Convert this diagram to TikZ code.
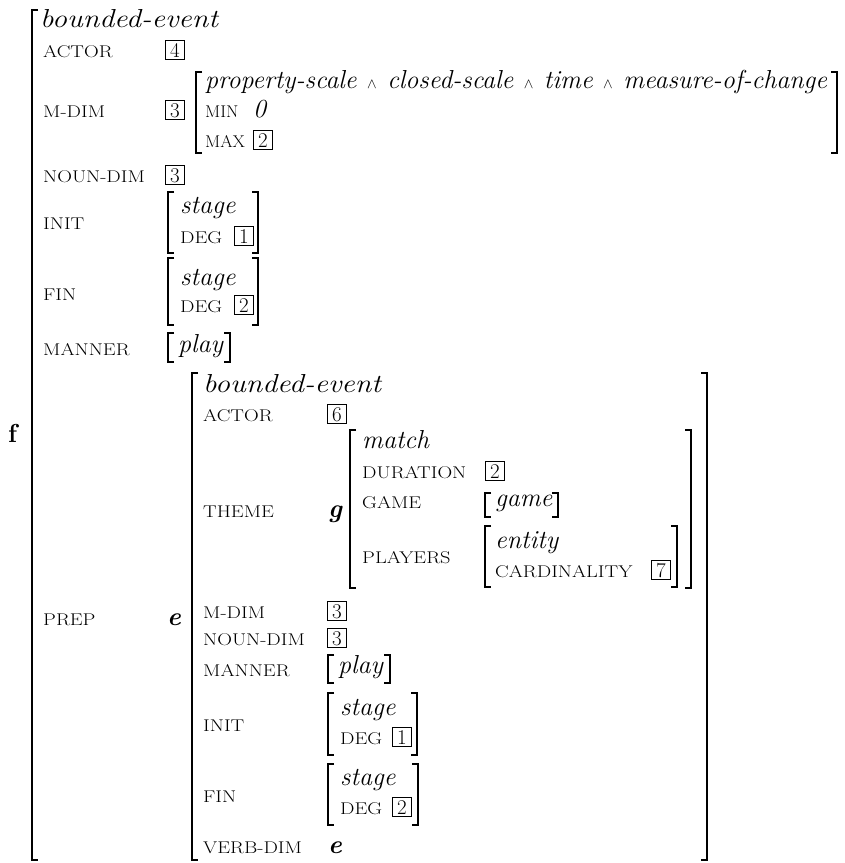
\documentclass[tikz,border=0pt]{standalone}
\usepackage{graphicx}
\newcommand\fsz{\fontsize{17}{21}\selectfont}
\newcommand\isz{\fontsize{26}{30}\selectfont}
\newcommand\tsz{\fontsize{21}{25}\selectfont}
\newcommand\SC[1]{\scalebox{1.2}[1]{#1}}
\newcommand\WI[1]{\scalebox{1.15}[1]{#1}}
\newcommand\andsym{\hspace{10.5pt}{\fontsize{15}{15}\selectfont$\wedge$}\hspace{10.5pt}}
\tikzset{
  x=1pt, y=-1pt,
  lab/.style={anchor=base west, inner sep=0pt, font=\fsz\upshape},
  typ/.style={anchor=base west, inner sep=0pt, font=\isz\itshape},
  var/.style={anchor=base west, inner sep=0pt, font=\isz\bfseries\itshape},
  tagbox/.style={anchor=base west, draw, line width=0.8pt, inner ysep=2.3pt, inner xsep=0pt, minimum width=19pt, font=\tsz},
  brk/.style={line width=1.6pt},
  midbrk/.style={line width=2pt},
  bigbrk/.style={line width=2.7pt},
}
\newcommand\LB[4][brk]{\draw[#1] (#2+6,#3) -- (#2,#3) -- (#2,#4) -- (#2+6,#4);}
\newcommand\RB[4][brk]{\draw[#1] (#2-6,#3) -- (#2,#3) -- (#2,#4) -- (#2-6,#4);}
\begin{document}
\begin{tikzpicture}
\useasboundingbox (0,0) rectangle (845,863);
% ---------- outer f ----------
\node[anchor=base west, inner sep=0pt, font=\isz\bfseries] (f) at (8,442) {f};
\LB[bigbrk]{32}{10}{860}
\node[typ] (be1) at (40,27) {\WI{bounded-event}};
\node[lab] (actor1) at (43,57) {\SC{ACTOR}};
\node[tagbox] (t4) at (165,57) {4};
\node[lab] (mdim1) at (43,117) {\SC{M-DIM}};
\node[tagbox] (t3a) at (165,117) {3};
\LB[midbrk]{196}{72}{153}
\RB[midbrk]{837}{72}{153}
\node[typ] (prop) at (205,88) {property-scale\andsym closed-scale\andsym time\andsym measure-of-change};
\node[lab] (min) at (205,117) {\scalebox{1.05}[1]{MIN}};
\node[typ] (zero) at (253,117) {0};
\node[lab] (max) at (205,147) {\scalebox{1.05}[1]{MAX}};
\node[tagbox] (t2a) at (253,147) {2};
\node[lab] (ndim1) at (43,182) {\SC{NOUN-DIM}};
\node[tagbox] (t3b) at (165,182) {3};
% INIT
\node[lab] (init1) at (43,229) {\SC{INIT}};
\LB{168}{192}{253}\RB{258}{192}{253}
\node[typ] (st1) at (180,213) {stage};
\node[lab] (deg1) at (180,243) {\SC{DEG}};
\node[tagbox] (t1a) at (234,243) {1};
% FIN
\node[lab] (fin1) at (43,300) {\SC{FIN}};
\LB{168}{258}{325}\RB{258}{258}{325}
\node[typ] (st2) at (180,285) {stage};
\node[lab] (deg2) at (180,312) {\SC{DEG}};
\node[tagbox] (t2b) at (234,312) {2};
% MANNER
\node[lab] (man1) at (43,355) {\SC{MANNER}};
\LB{168}{333}{362}\RB{230}{333}{362}
\node[typ] (play1) at (178,352) {play};
% PREP
\node[lab] (prep) at (43,625) {\SC{PREP}};
\node[var] (e1) at (167,625) {e};
% ---------- e matrix ----------
\LB[bigbrk]{192}{373}{860}\RB[bigbrk]{707}{373}{860}
\node[typ] (be2) at (203,392) {\WI{bounded-event}};
\node[lab] (actor2) at (203,421) {\SC{ACTOR}};
\node[tagbox] (t6) at (327,421) {6};
\node[lab] (theme) at (203,517) {\SC{THEME}};
\node[var] (g) at (328,517) {g};
% g matrix
\LB[midbrk]{350}{430}{588}\RB[midbrk]{691}{430}{588}
\node[typ] (match) at (362,448) {match};
\node[lab] (dur) at (362,478) {\SC{DURATION}};
\node[tagbox] (t2c) at (485,478) {2};
\node[lab] (game) at (362,508) {\SC{GAME}};
\LB{485}{493}{517}\RB{558}{493}{517}
\node[typ] (gameval) at (495,506) {game};
\node[lab] (players) at (362,563) {\SC{PLAYERS}};
\LB{485}{526}{587}\RB{677}{526}{587}
\node[typ] (entity) at (495,548) {entity};
\node[lab] (card) at (495,577) {\SC{CARDINALITY}};
\node[tagbox] (t7) at (651,577) {7};
% rest of e
\node[lab] (mdim2) at (203,618) {\SC{M-DIM}};
\node[tagbox] (t3c) at (327,618) {3};
\node[lab] (ndim2) at (203,645) {\SC{NOUN-DIM}};
\node[tagbox] (t3d) at (327,645) {3};
\node[lab] (man2) at (203,676) {\SC{MANNER}};
\LB{328}{655}{683}\RB{390}{655}{683}
\node[typ] (play2) at (338,673) {play};
\node[lab] (init2) at (203,731) {\SC{INIT}};
\LB{328}{693}{755}\RB{417}{693}{755}
\node[typ] (st3) at (340,715) {stage};
\node[lab] (deg3) at (340,744) {\SC{DEG}};
\node[tagbox] (t1b) at (392,744) {1};
\node[lab] (fin2) at (203,802) {\SC{FIN}};
\LB{328}{764}{825}\RB{418}{764}{825}
\node[typ] (st4) at (340,785) {stage};
\node[lab] (deg4) at (340,814) {\SC{DEG}};
\node[tagbox] (t2d) at (392,814) {2};
\node[lab] (vdim) at (203,853) {\SC{VERB-DIM}};
\node[var] (e2) at (328,853) {e};
\end{tikzpicture}
\end{document}
